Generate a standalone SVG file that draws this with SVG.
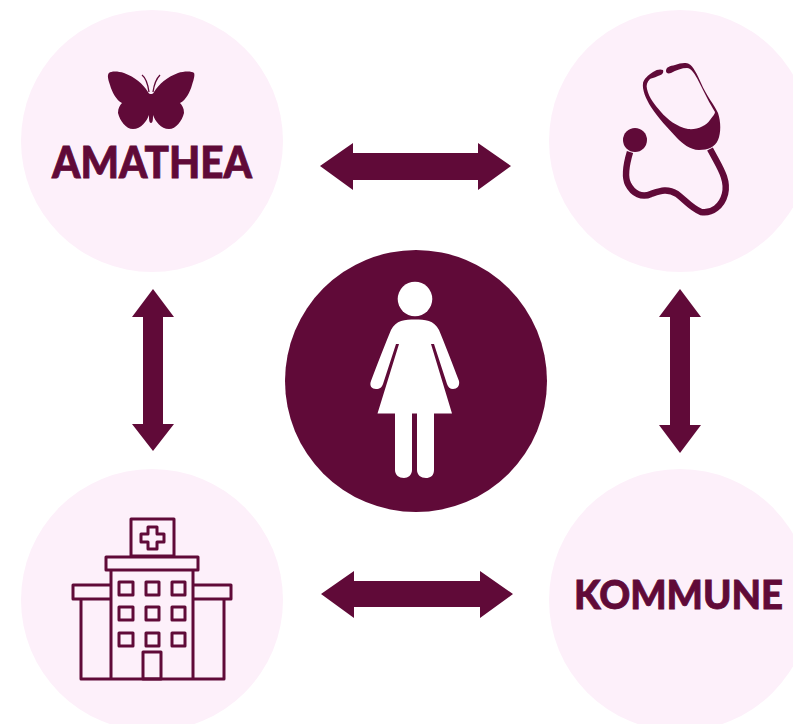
<svg xmlns="http://www.w3.org/2000/svg" width="793" height="724" viewBox="0 0 793 724">
<style>
.bg{fill:#fdf0fa}
.dk{fill:#600a38}
.label{font-family:Lato,"Liberation Sans",sans-serif;font-weight:900;fill:#600a38;stroke:#600a38;stroke-width:.8}
.ln{fill:none;stroke:#600a38;stroke-width:3;stroke-linejoin:round}
</style>
<rect width="793" height="724" fill="#ffffff"/>
<g id="node-amathea">
<circle class="bg" cx="152" cy="141" r="131"/>
<path class="dk" d="M151 123C149 123 149 119 149 115C147 121 141 129 133 129C126 129 120 121 118 113C118 108 120 105 122 103C116 100 112 92 110 85C108 79 107 75 109 73C111 71 118 71 124 73C135 77 143 84 148 92C149 94 150 94 151 94C152 94 153 94 154 92C159 84 167 77 178 73C184 71 192 71 194 73C195 75 194 79 192 85C190 92 186 100 180 103C182 105 184 108 184 113C182 121 176 129 169 129C161 129 155 121 153 115C153 119 153 123 151 123Z"/>
<path d="M149 92C148 85 146 78 142 75M153 92C154 85 157 78 160 75" fill="none" stroke="#600a38" stroke-width="1.3"/>
<text class="label" x="52" y="178" font-size="43" textLength="200" lengthAdjust="spacingAndGlyphs">AMATHEA</text>
</g>
<g id="node-doctor">
<circle class="bg" cx="680" cy="141" r="131"/>
<path class="dk" d="M666 71C666 67 670 66 675 65C680 63 686 62 689 64C693 66 697 74 701 83C706 95 715 106 718 113C721 122 721 133 718 140C715 147 708 150 699 150C690 150 682 143 677 138C668 128 658 118 651 107C646 99 642 90 643 83C644 79 648 75 653 72C657 69 661 69 663 70C664 73 662 75 658 76C654 78 651 78 650 79C647 82 646 85 647 89C649 98 655 105 661 112C667 119 677 127 688 129C697 130 706 126 710 120C713 116 715 114 715 112C710 104 704 92 699 82C695 74 691 68 687 68C682 68 676 70 671 73C668 74 666 73 666 71Z"/>
<circle class="dk" cx="635" cy="140" r="12"/>
<path d="M630 152C627 162 624 176 628 184C633 194 642 198 651 194C660 191 667 188 677 194C685 200 691 208 701 212C712 214 722 206 725 194C728 182 722 171 716 160L710 149" fill="none" stroke="#600a38" stroke-width="6.500"/>
</g>
<g id="node-hospital">
<circle class="bg" cx="152" cy="600" r="131"/>
<rect class="ln" x="131" y="519" width="43" height="37"/>
<path class="ln" d="M148 527h9v7h7v8h-7v7h-9v-7h-7v-8h7z"/>
<rect class="ln" x="106" y="557" width="92" height="13"/>
<path class="ln" d="M111 585H73V599H111M193 585H231V599H193"/>
<path class="ln" d="M111 570V679M193 570V679M81 599V679H224V599"/>
<rect class="ln" x="119" y="582" width="14" height="13"/>
<rect class="ln" x="146" y="582" width="13" height="13"/>
<rect class="ln" x="172" y="582" width="13" height="13"/>
<rect class="ln" x="119" y="607" width="14" height="13"/>
<rect class="ln" x="146" y="607" width="13" height="13"/>
<rect class="ln" x="172" y="607" width="13" height="13"/>
<rect class="ln" x="119" y="633" width="14" height="13"/>
<rect class="ln" x="146" y="633" width="13" height="13"/>
<rect class="ln" x="172" y="633" width="13" height="13"/>
<rect class="ln" x="143" y="652" width="18" height="27"/>
</g>
<g id="node-kommune">
<circle class="bg" cx="680" cy="600" r="131"/>
<text class="label" x="574" y="609" font-size="39" textLength="209" lengthAdjust="spacingAndGlyphs">KOMMUNE</text>
</g>
<g id="node-woman">
<circle class="dk" cx="416" cy="381" r="131"/>
<circle cx="415" cy="299" r="17.300" fill="#ffffff"/>
<path fill="#ffffff" d="M415 319.500C425 319.500 434 320 439 330C444 342 453 365 459 381C460 386 457 389 453 389C450 389 448 387 447 384L434 344H431L452 413.500H434V470C434 476 430 478 426 478C421 478 417 475 417 470V413.500H412V470C412 475 408 478 404 478C399 478 395 475 395 470V413.500H377.500L399 344H396L383 384C382 387 380 389 376 389C372 389 369 386 371 381C377 365 386 342 391 330C396 320 405 319.500 415 319.500Z"/>
</g>
<g id="connectors" class="dk">
<path d="M320 166L353 143V153H478V143L511 166L478 190V180H353V190Z"/>
<path d="M321 594L354 571V581H480V571L513 594L480 618V607H354V618Z"/>
<path d="M153 289L174 317H163V424H174L153 451L132 424H143V317H132Z"/>
<path d="M680 289L701 317H690V425H701L680 453L659 425H670V317H659Z"/>
</g>
</svg>
